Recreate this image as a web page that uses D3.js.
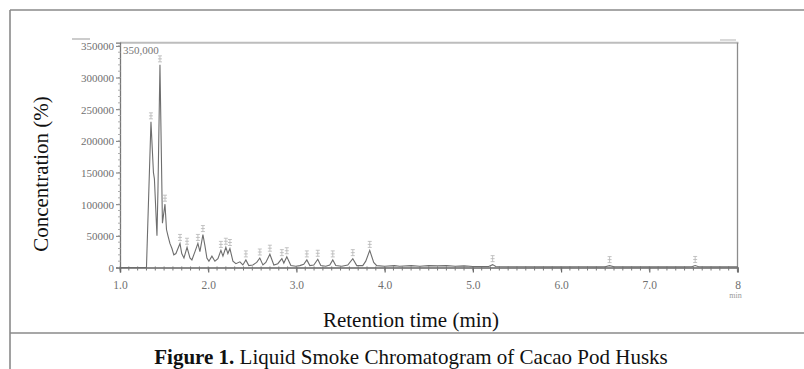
<!DOCTYPE html>
<html><head><meta charset="utf-8">
<script src="https://cdn.jsdelivr.net/npm/d3@7"></script>
<style>body{margin:0;background:#fff}svg{display:block}</style>
</head><body>
<script>
// Retention times (min) and intensities
const times = [1.00,1.28,1.30,1.351,1.379,1.39,1.419,1.43,1.453,1.481,1.51,1.527,1.544,1.566,1.589,1.61,1.634,1.657,1.68,1.70,1.725,1.76,1.793,1.815,1.85,1.883,1.906,1.94,1.962,1.985,2.008,2.042,2.076,2.11,2.144,2.167,2.20,2.223,2.246,2.28,2.314,2.359,2.393,2.427,2.46,2.506,2.55,2.585,2.62,2.653,2.699,2.744,2.789,2.835,2.857,2.891,2.937,2.993,3.038,3.083,3.118,3.152,3.197,3.242,3.276,3.333,3.378,3.412,3.446,3.514,3.582,3.639,3.684,3.752,3.786,3.831,3.876,3.91,4.0,4.11,4.17,4.3,4.4,4.5,4.6,4.7,4.8,4.9,5.0,5.1,5.18,5.224,5.26,5.4,5.6,5.8,6.0,6.2,6.4,6.5,6.55,6.6,6.8,7.0,7.2,7.4,7.48,7.52,7.56,7.7,7.9,8.0];
const intensity = [0,0,0,230000,150000,140000,50000,120000,320000,70000,100000,60000,50000,38000,30000,20000,22000,30000,38000,22000,15000,32000,15000,12000,25000,38000,25000,52000,35000,15000,10000,18000,10000,14000,27000,18000,32000,22000,30000,10000,6000,9000,4000,12000,3000,4000,8000,15000,4000,8000,21000,4000,6000,14000,7000,17000,3000,2000,3000,5000,12000,3000,4000,13000,3000,2000,4000,12000,3000,2000,4000,14000,3000,3000,10000,27000,8000,3000,2000,3000,2000,3000,2000,3000,2500,3000,2000,2500,1500,1500,1500,4500,1500,1200,1200,1000,1000,1200,1000,1200,3000,1200,1000,1000,1000,1000,1200,3200,1200,1000,1000,1000];
// Annotated peaks (retention time, intensity)
const peakTimes = [1.351,1.453,1.51,1.68,1.76,1.883,1.94,2.144,2.20,2.246,2.427,2.585,2.699,2.835,2.891,3.118,3.242,3.412,3.639,3.831,5.224,6.55,7.52];
const peakValues = [230000,320000,100000,38000,32000,38000,52000,27000,32000,30000,12000,15000,21000,14000,17000,12000,13000,12000,14000,27000,4500,3000,3200];
const xTicks = [1,2,3,4,5,6,7,8];
const xTickLabels = ["1.0","2.0","3.0","4.0","5.0","6.0","7.0","8"];
const yTicks = [0,50000,100000,150000,200000,250000,300000,350000];
const yTickLabels = ["0","50000","100000","150000","200000","250000","300000","350000"];

const W = 804, H = 369;
const svg = d3.select("body").append("svg").attr("width", W).attr("height", H);
const serif = "'Liberation Serif','Times New Roman',serif";

// outer frame
svg.append("line").attr("x1",10).attr("y1",10).attr("x2",W).attr("y2",10).attr("stroke","#8a8a8a").attr("stroke-width",1.6);
svg.append("line").attr("x1",10).attr("y1",10).attr("x2",10).attr("y2",H).attr("stroke","#8a8a8a").attr("stroke-width",1.6);
svg.append("line").attr("x1",10).attr("y1",333).attr("x2",W).attr("y2",333).attr("stroke","#8a8a8a").attr("stroke-width",1.6);

const x = d3.scaleLinear().domain([1,8]).range([120,737.5]);
const y = d3.scaleLinear().domain([0,355000]).range([267.5,42.7]);

// plot frame (top, right)
svg.append("line").attr("x1",x(1)).attr("x2",x(8)+1).attr("y1",y(355000)).attr("y2",y(355000)).attr("stroke","#bdbdbd").attr("stroke-width",2);
svg.append("line").attr("x1",x(8)).attr("x2",x(8)).attr("y1",y(355000)).attr("y2",y(0)+4).attr("stroke","#8c8c8c").attr("stroke-width",1.3);

// Y axis
const yAxis = d3.axisLeft(y).tickValues(yTicks).tickFormat((d,i)=>yTickLabels[i]).tickSize(4).tickPadding(2);
const gy = svg.append("g").attr("transform",`translate(${x(1)},0)`).call(yAxis);
gy.select(".domain").attr("stroke","#777").attr("stroke-width",1.3);
gy.selectAll(".tick line").attr("stroke","#777");
gy.selectAll("text").attr("font-family",serif).attr("font-size",11).attr("fill","#6f6f6f").attr("dy","0.35em");
const yMinor = d3.range(0,355000,10000);
svg.append("g").selectAll("line").data(yMinor).join("line")
  .attr("x1",x(1)-2).attr("x2",x(1)+1).attr("y1",d=>y(d)).attr("y2",d=>y(d)).attr("stroke","#999").attr("stroke-width",0.8);

// X axis
const xAxis = d3.axisBottom(x).tickValues(xTicks).tickFormat((d,i)=>xTickLabels[i]).tickSize(5).tickPadding(8);
const gx = svg.append("g").attr("transform",`translate(0,${y(0)})`).call(xAxis);
gx.select(".domain").attr("stroke","#666").attr("stroke-width",1.4);
gx.selectAll(".tick line").attr("stroke","#666").attr("stroke-width",1.2);
gx.selectAll("text").attr("font-family",serif).attr("font-size",11.5).attr("fill","#6f6f6f");
const xMinor = d3.range(1,8.001,0.1);
svg.append("g").selectAll("line").data(xMinor).join("line")
  .attr("x1",d=>x(d)).attr("x2",d=>x(d)).attr("y1",y(0)-1).attr("y2",y(0)+3).attr("stroke","#777").attr("stroke-width",1);

// "min" unit and top marks
svg.append("text").attr("x",x(8)-2).attr("y",298).attr("text-anchor","middle").attr("font-family",serif).attr("font-size",8).attr("fill","#999").text("min");
svg.append("line").attr("x1",72).attr("x2",90).attr("y1",39).attr("y2",39).attr("stroke","#bbb").attr("stroke-width",1.5);
svg.append("line").attr("x1",720).attr("x2",736).attr("y1",40).attr("y2",40).attr("stroke","#ccc").attr("stroke-width",1.5);
svg.append("text").attr("x",x(1)+3).attr("y",y(350000)+8).attr("font-family",serif).attr("font-size",11).attr("fill","#777").text("350,000");

// chromatogram trace
const pts = times.map((t,i)=>[t,intensity[i]]);
svg.append("path").datum(pts)
  .attr("d", d3.line().x(d=>x(d[0])).y(d=>y(d[1])))
  .attr("fill","none").attr("stroke","#6e6e6e").attr("stroke-width",1.1);

// peak annotation marks
const pk = svg.append("g").attr("stroke","#b5b5b5").attr("stroke-width",0.8).attr("fill","none");
peakTimes.forEach((t,i)=>{
  const px = x(t), py = y(peakValues[i]) - 3;
  pk.append("path").attr("d",`M${px-2},${py} h4 M${px-2},${py-3} h4 M${px-2},${py-6} h4 M${px},${py} v-6`);
});

// axis titles
svg.append("text").attr("transform","translate(48,174) rotate(-90)").attr("text-anchor","middle")
  .attr("font-family",serif).attr("font-size",21).attr("fill","#111").text("Concentration (%)");
svg.append("text").attr("x",411).attr("y",327).attr("text-anchor","middle")
  .attr("font-family",serif).attr("font-size",21).attr("fill","#111").text("Retention time (min)");

// caption
const cap = svg.append("text").attr("x",411).attr("y",364).attr("text-anchor","middle")
  .attr("font-family",serif).attr("font-size",21).attr("fill","#111");
cap.append("tspan").attr("font-weight","bold").text("Figure 1.");
cap.append("tspan").text(" Liquid Smoke Chromatogram of Cacao Pod Husks");
</script>
</body></html>
